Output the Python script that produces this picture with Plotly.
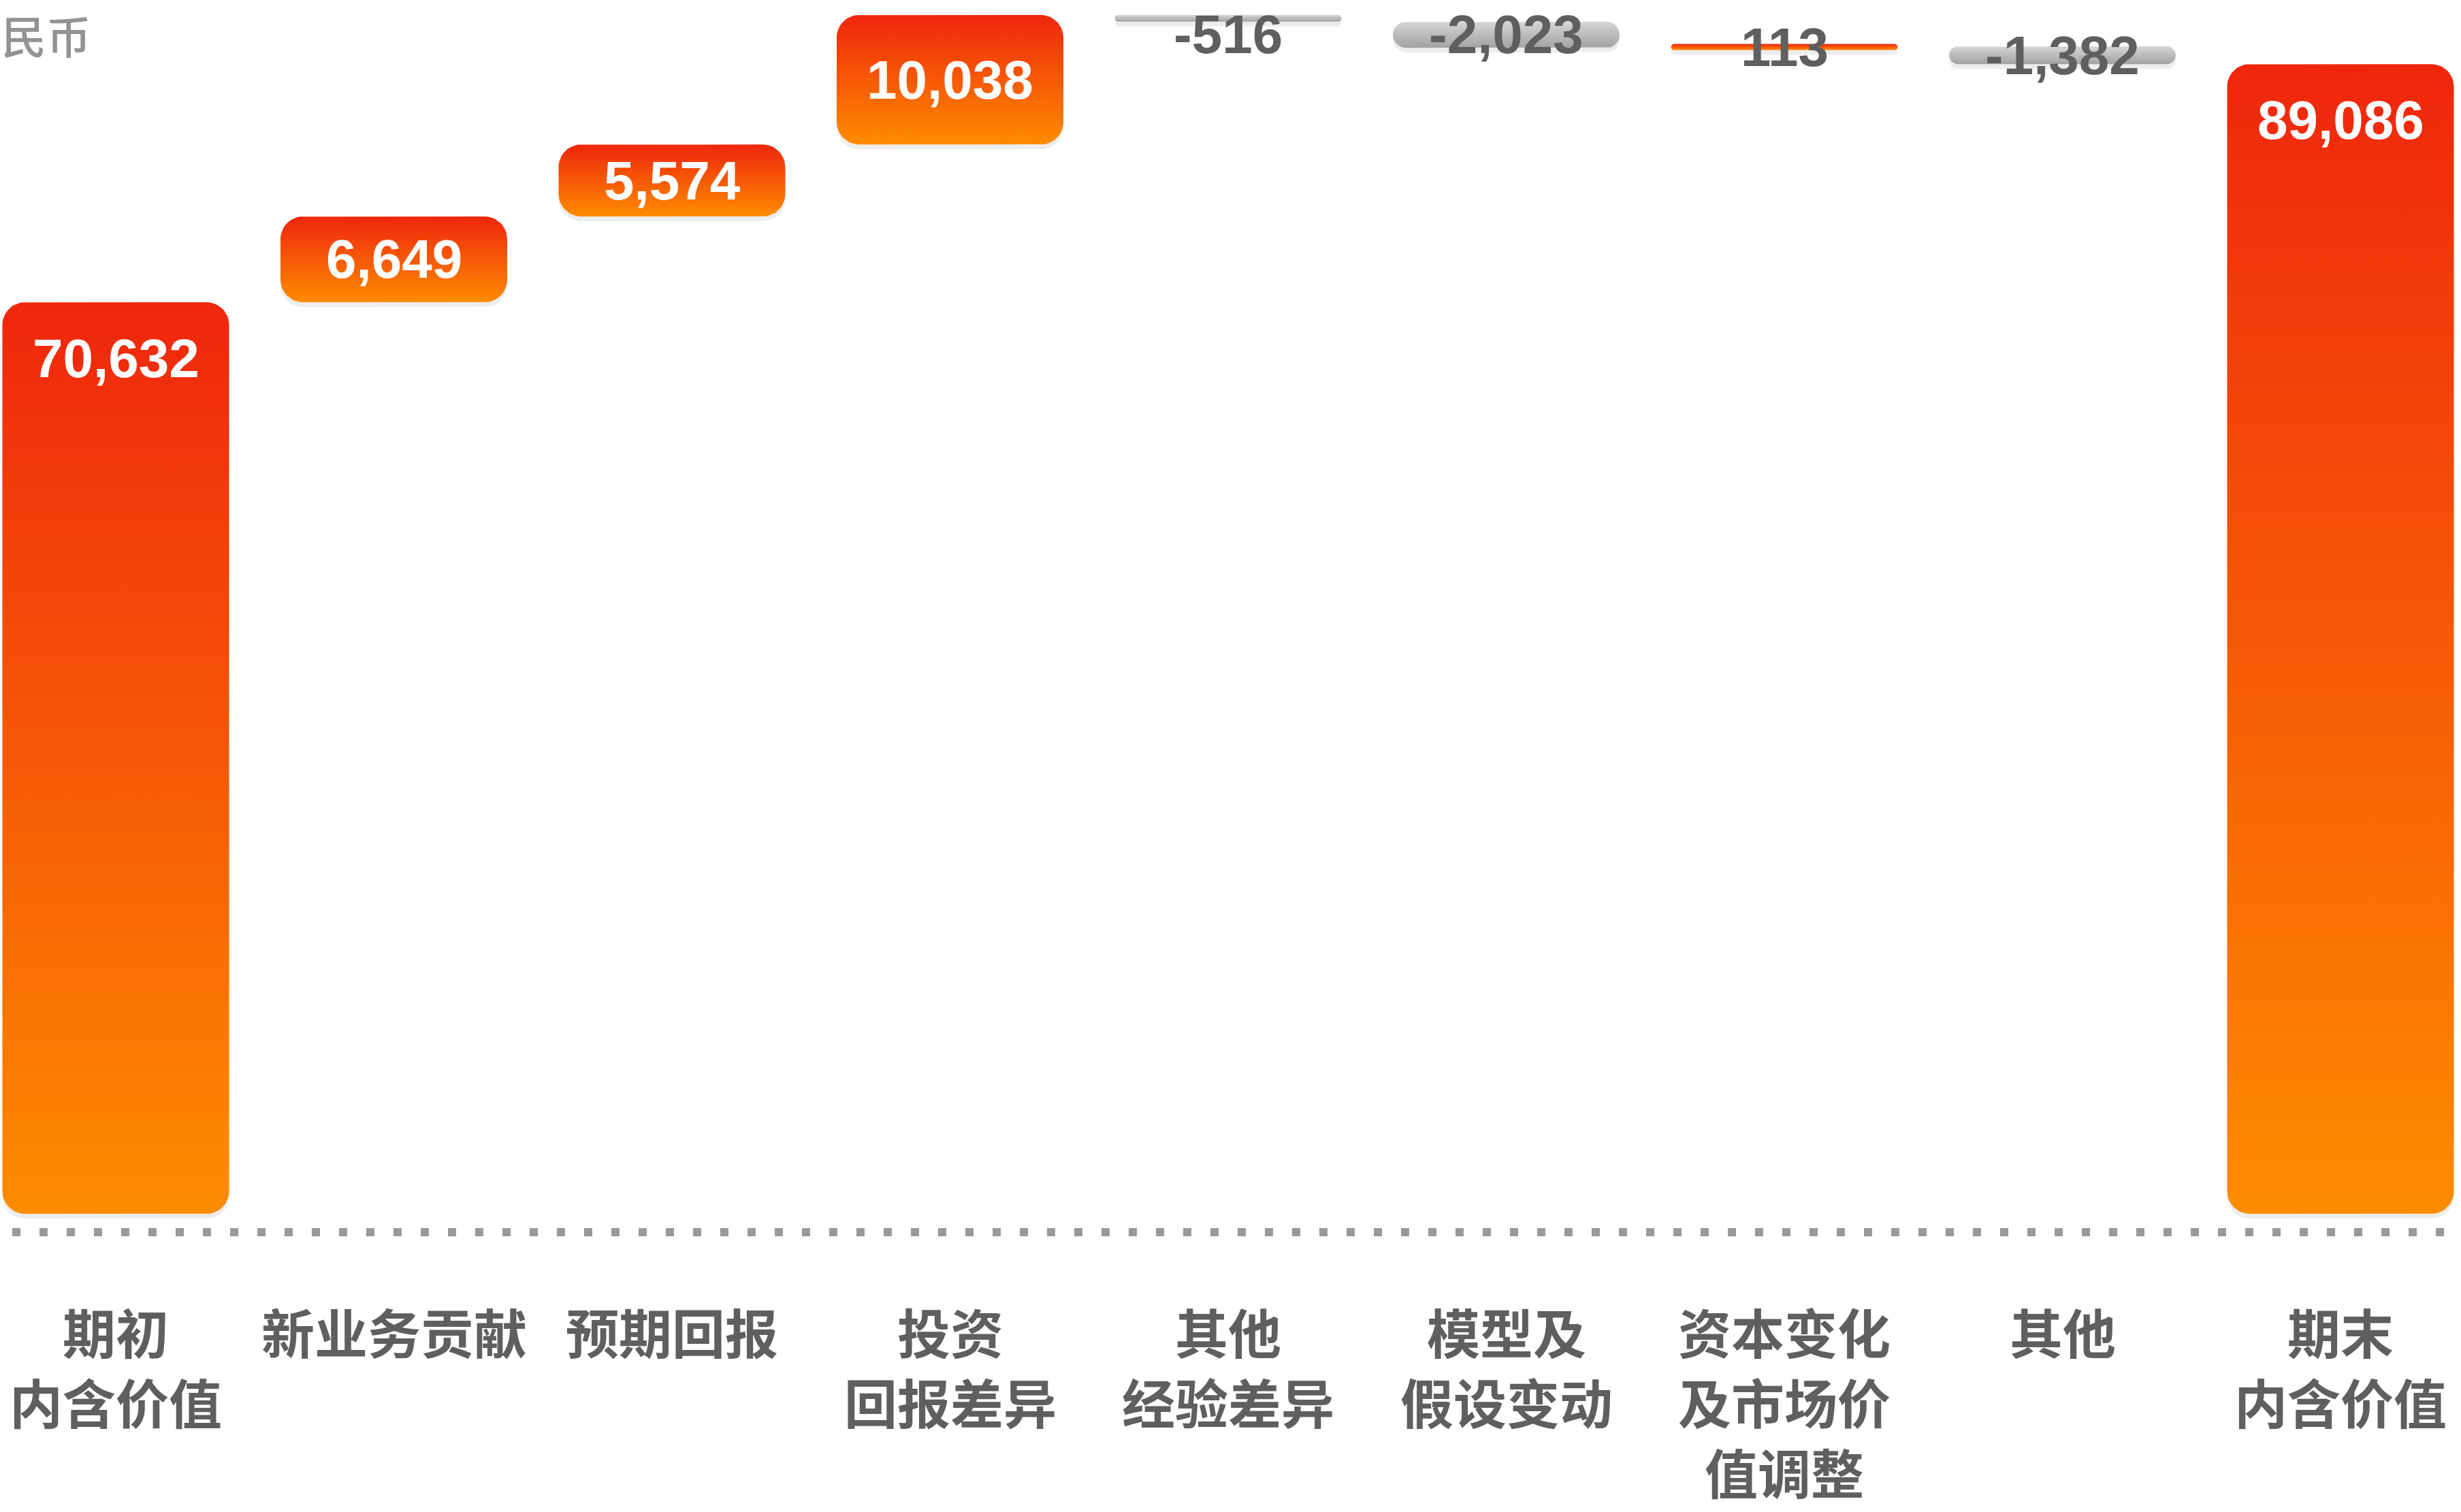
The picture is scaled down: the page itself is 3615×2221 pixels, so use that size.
import math
import plotly.graph_objects as go

# ---------------- data ----------------
categories = ["期初<br>内含价值", "新业务贡献", "预期回报", "投资<br>回报差异", "其他<br>经验差异",
              "模型及<br>假设变动", "资本变化<br>及市场价<br>值调整", "其他", "期末<br>内含价值"]
values = [70632, 6649, 5574, 10038, -516, -2023, 113, -1382, 89086]
measures = ["absolute", "relative", "relative", "relative", "relative",
            "relative", "relative", "relative", "total"]
unit_label = "民币"

# ---------------- geometry / style ----------------
W, H = 3615, 2221
X0_PX, STEP_PX = 170.0, 408.5          # centre of first bar, spacing
BAR_W_PX = 333.0
BASE_PX, TOP_PX = 1783.0, 22.0         # pixel row of zero, pixel row of max level
RADIUS_PX = 33.0
MIN_H_PX = 9.0
LABEL_MIN_PX = 50.0                    # keep value labels inside the canvas
CAT_LINE1_PX, CAT_LINE_STEP = 1955.0, 103.0

RED, ORANGE = "#EF260D", "#FD8C00"
GREY_TOP, GREY_BOT = "#d6d6d6", "#a2a2a2"
TXT_DARK = "#5f5f5f"

# running levels
lows, highs = [], []
level = 0.0
for v, m in zip(values, measures):
    if m in ("absolute", "total"):
        lo, hi = 0.0, float(v)
        level = float(v)
    else:
        lo, hi = sorted([level, level + v])
        level += v
    lows.append(lo)
    highs.append(hi)

max_level = max(highs)
ky = (BASE_PX - TOP_PX) / max_level          # px per unit
kx = STEP_PX                                 # px per category
x_range = [-X0_PX / kx, (W - X0_PX) / kx]
y_range = [-(H - BASE_PX) / ky, BASE_PX / ky]


def py(p):
    """pixel row -> data value"""
    return (BASE_PX - p) / ky


def rrect(xc, lo, hi, shift_px=0.0):
    """rounded rectangle polygon in data coords"""
    h_px = (hi - lo) * ky
    if h_px < MIN_H_PX:
        mid = (hi + lo) / 2
        lo, hi = mid - MIN_H_PX / 2 / ky, mid + MIN_H_PX / 2 / ky
        h_px = MIN_H_PX
    lo -= shift_px / ky
    hi -= shift_px / ky
    r = min(RADIUS_PX, h_px / 2, BAR_W_PX / 2)
    rx, ry = r / kx, r / ky
    hw = BAR_W_PX / 2 / kx
    xl, xr = xc - hw, xc + hw
    xs, ys = [], []
    corners = [(xr - rx, hi - ry, 0, 90), (xl + rx, hi - ry, 90, 180),
               (xl + rx, lo + ry, 180, 270), (xr - rx, lo + ry, 270, 360)]
    for cx, cy, a0, a1 in corners:
        for k in range(13):
            a = math.radians(a0 + (a1 - a0) * k / 12)
            xs.append(cx + rx * math.cos(a))
            ys.append(cy + ry * math.sin(a))
    xs.append(xs[0]); ys.append(ys[0])
    return xs, ys


fig = go.Figure()

for i, (v, lo, hi) in enumerate(zip(values, lows, highs)):
    # soft shadow
    sx, sy = rrect(i, lo, hi, shift_px=7)
    fig.add_trace(go.Scatter(x=sx, y=sy, fill="toself", mode="lines",
                             line=dict(width=0), fillcolor="rgba(0,0,0,0.07)",
                             hoverinfo="skip", showlegend=False))
    xs, ys = rrect(i, lo, hi)
    cs = [[0, ORANGE], [1, RED]] if v >= 0 else [[0, GREY_BOT], [1, GREY_TOP]]
    fig.add_trace(go.Scatter(x=xs, y=ys, fill="toself", mode="lines",
                             line=dict(width=0),
                             fillgradient=dict(type="vertical", colorscale=cs),
                             hoverinfo="skip", showlegend=False))

# value labels
for i, (v, m, lo, hi) in enumerate(zip(values, measures, lows, highs)):
    h_px = (hi - lo) * ky
    if m in ("absolute", "total"):
        ylab = hi - 82 / ky
        col = "white"
    else:
        ylab = min((hi + lo) / 2, py(LABEL_MIN_PX))
        col = "white" if h_px > 60 else TXT_DARK
    fig.add_annotation(x=i, y=ylab, text=f"{v:,}", showarrow=False,
                       xanchor="center", yanchor="middle",
                       font=dict(family="Liberation Sans, Arial, sans-serif",
                                 size=80, color=col, weight="bold"))

# category labels (one annotation per line)
for i, c in enumerate(categories):
    for j, line in enumerate(c.split("<br>")):
        fig.add_annotation(x=i, y=py(CAT_LINE1_PX + j * CAT_LINE_STEP), text=line,
                           showarrow=False, xanchor="center", yanchor="middle",
                           font=dict(family="Noto Sans CJK SC", size=78,
                                     color=TXT_DARK, weight="bold"))

# unit label
fig.add_annotation(xref="paper", yref="paper", x=0, y=1, xanchor="left",
                   yanchor="top", text=unit_label, showarrow=False,
                   font=dict(family="Noto Sans CJK SC", size=66, color="#939393",
                             weight=500))

# dotted baseline
fig.add_shape(type="line", xref="paper", yref="y", x0=18 / W, x1=1,
              y0=py(1810), y1=py(1810),
              line=dict(color="#999999", width=12, dash="12px,28px"))

fig.update_layout(
    width=W, height=H, margin=dict(l=0, r=0, t=0, b=0),
    paper_bgcolor="white", plot_bgcolor="white", showlegend=False,
    xaxis=dict(range=x_range, visible=False, fixedrange=True),
    yaxis=dict(range=y_range, visible=False, fixedrange=True),
)

fig.write_html("out.html", config={"displayModeBar": False},
               post_script="document.body.style.margin='0';")
